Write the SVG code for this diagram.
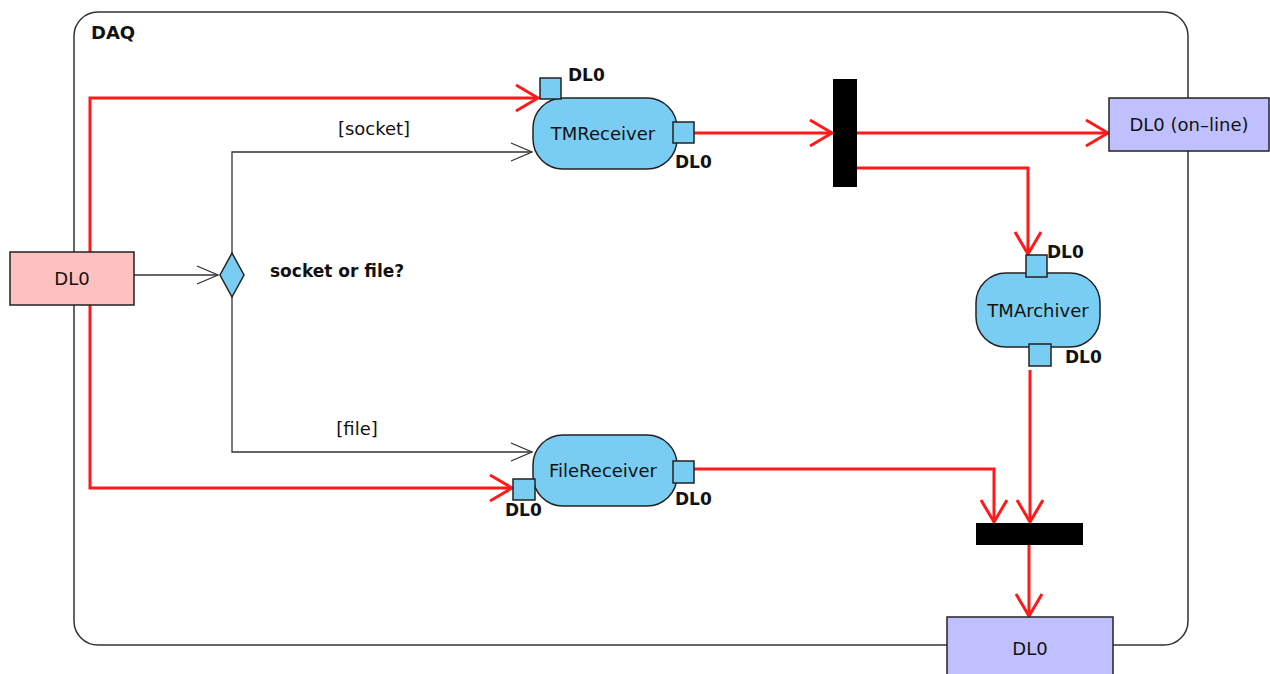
<svg xmlns="http://www.w3.org/2000/svg" width="1270" height="674" viewBox="0 0 1270 674">
<style>
text{font-family:"DejaVu Sans","Liberation Sans",sans-serif;fill:#111;}
.lbl{font-size:18px;}
.b{font-size:17px;font-weight:bold;}
.act{fill:#79cdf2;stroke:#222;stroke-width:1.5;}
.pin{fill:#79cdf2;stroke:#222;stroke-width:1.5;}
.red{fill:none;stroke:#ff1a1a;stroke-width:3;}
.blk{fill:none;stroke:#333;stroke-width:1.3;}
.bar{fill:#000;}
</style>
<defs>
<marker id="ar" markerUnits="userSpaceOnUse" viewBox="0 0 26 30" markerWidth="26" markerHeight="30" refX="24" refY="15" orient="auto">
<path d="M2,2 L24,15 L2,28" fill="none" stroke="#ff1a1a" stroke-width="3"/>
</marker>
<marker id="ab" markerUnits="userSpaceOnUse" viewBox="0 0 24 22" markerWidth="24" markerHeight="22" refX="22" refY="11" orient="auto">
<path d="M1,2 L22,11 L1,20" fill="none" stroke="#333" stroke-width="1.3"/>
</marker>
</defs>
<g id="frame">
<rect x="74" y="12" width="1114" height="633" rx="24" fill="none" stroke="#333" stroke-width="1.5"/>
<text x="91" y="39" class="b" style="font-size:18px">DAQ</text>
</g>
<g id="connectors">
<path class="blk" d="M134,275 H218" marker-end="url(#ab)"/>
<path class="blk" d="M232,253 V152 H532" marker-end="url(#ab)"/>
<path class="blk" d="M232,297 V452 H532" marker-end="url(#ab)"/>
<path class="red" d="M90,252 V98 H538" marker-end="url(#ar)"/>
<path class="red" d="M90,305 V488 H512" marker-end="url(#ar)"/>
<path class="red" d="M694,133 H832" marker-end="url(#ar)"/>
<path class="red" d="M857,133 H1108" marker-end="url(#ar)"/>
<path class="red" d="M857,168 H1028 V254" marker-end="url(#ar)"/>
<path class="red" d="M694,469 H994 V522" marker-end="url(#ar)"/>
<path class="red" d="M1030,370 V522" marker-end="url(#ar)"/>
<path class="red" d="M1029,545 V616" marker-end="url(#ar)"/>
</g>
<g id="dl0-in">
<rect x="10" y="252" width="124" height="53" fill="#ffc0c0" stroke="#222" stroke-width="1.5"/>
<text x="72" y="285" class="lbl" text-anchor="middle">DL0</text>
</g>
<g id="decision">
<path d="M232,253 L244,275 L232,297 L220,275 Z" fill="#79cdf2" stroke="#222" stroke-width="1.5"/>
<text x="270" y="277" class="b">socket or file?</text>
<text x="374" y="135" class="lbl" text-anchor="middle">[socket]</text>
<text x="357" y="435" class="lbl" text-anchor="middle">[file]</text>
</g>
<g id="tmreceiver">
<rect class="act" x="533" y="98" width="144" height="71" rx="30"/>
<text x="603" y="140" class="lbl" text-anchor="middle">TMReceiver</text>
<rect class="pin" x="540" y="78" width="21" height="21"/>
<text x="568" y="81" class="b">DL0</text>
<rect class="pin" x="673" y="122" width="21" height="21"/>
<text x="675" y="168" class="b">DL0</text>
</g>
<g id="filereceiver">
<rect class="act" x="533" y="435" width="144" height="71" rx="30"/>
<text x="603" y="477" class="lbl" text-anchor="middle">FileReceiver</text>
<rect class="pin" x="513" y="479" width="22" height="21"/>
<text x="505" y="516" class="b">DL0</text>
<rect class="pin" x="673" y="461" width="21" height="22"/>
<text x="675" y="505" class="b">DL0</text>
</g>
<g id="fork">
<rect class="bar" x="833" y="79" width="24" height="108"/>
</g>
<g id="join">
<rect class="bar" x="976" y="523" width="107" height="22"/>
</g>
<g id="tmarchiver">
<rect class="act" x="976" y="273" width="124" height="74" rx="30"/>
<text x="1038" y="317" class="lbl" text-anchor="middle">TMArchiver</text>
<rect class="pin" x="1026" y="255" width="21" height="22"/>
<text x="1047" y="258" class="b">DL0</text>
<rect class="pin" x="1029" y="344" width="22" height="22"/>
<text x="1065" y="363" class="b">DL0</text>
</g>
<g id="dl0-online">
<rect x="1109" y="98" width="160" height="53" fill="#c0c0ff" stroke="#222" stroke-width="1.5"/>
<text x="1189" y="131" class="lbl" text-anchor="middle">DL0 (on–line)</text>
</g>
<g id="dl0-out">
<rect x="947" y="617" width="166" height="70" fill="#c0c0ff" stroke="#222" stroke-width="1.5"/>
<text x="1030" y="655" class="lbl" text-anchor="middle">DL0</text>
</g>
</svg>
